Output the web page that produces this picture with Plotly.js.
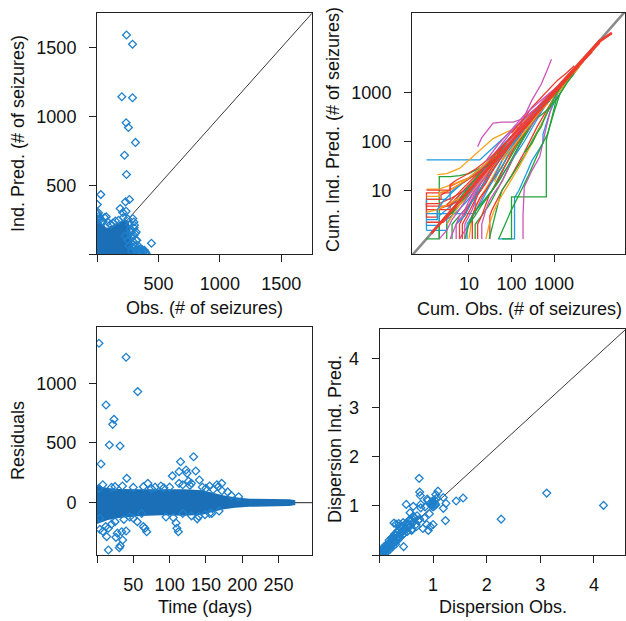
<!DOCTYPE html>
<html><head><meta charset="utf-8">
<script src="https://cdn.plot.ly/plotly-3.0.1.min.js"></script>
<style>html,body{margin:0;padding:0;background:#fff}#chart{width:626px;height:621px}</style>
</head><body><div id="chart"></div>
<script>
// ---------- Panel 1: observed vs individual predicted (# of seizures)
const obsCore  = [0,0,8,20,35,55,70,90,110,135,160,185,205,225,245,258,268,275,282,290,300,312,325,0];
const predCore = [0,285,270,235,215,218,195,190,205,200,218,232,245,250,245,230,195,150,110,70,40,20,0,0];
const obsPts  = [240,289,202,289,237,256,313,224,240,31,3,232,264,189,210,237,75,42,443,319,378,395,291,300,302,310,278,291,61,88,300,324,386,305,319,5,15,25,50,110,130,150,175,215,250,265,270,285,295,310,330,345,360,370,380,400,355,340,320,280,260,250,230,335,350,365,12,4,22];
const predPts = [1592,1525,1143,1136,954,920,811,718,578,432,360,379,396,330,301,311,270,240,78,100,22,12,258,233,190,149,160,51,265,233,136,100,27,209,160,290,275,250,235,215,225,240,245,265,255,215,180,120,90,60,40,20,10,30,15,5,5,55,30,20,60,100,130,10,35,8,300,250,262];
const diag1 = [0,1750];

// ---------- Panel 2: cumulative observed vs cumulative individual predicted
const cumObs = [
 [1,18,25,40,70,150,300,600,1200],
 [1.8,3,6,12,20,37,80,155,300,700,1500],
 [1,2,2,3.6,6,10,20,50,100,300,800],
 [16,20,37,60,110,200,400,900,2000],
 [1,1,3.6,3.6,6,10,20,40,80,200,500],
 [48,118,118,150,225,300,550,550,800,1200],
 [1,2,3,5,8,15,30,60,120,300,700,2000],
 [60,100,100,300,660,660,1120,2000,4000],
 [187,187,200,300,460,660,950,2000,5000],
 [30,60,100,155,300,500,700,870],
 [31,31,35,45,60,100,200,400,1000],
 [1,1,3.6,3.6,7,15,30,60,150,400],
 [1,1,2,4,8,15,30,60,120,250,600,1500],
 [1,14,14,20,40,80,200,500,1200,3000],
 [1,3.6,5,8,12,25,50,100,200,500,1000,3000,8000],
 [1,2,2,4,6,10,20,50],
 [1,3,3,5,9,14,30,70,200],
 [1,1.8,1.8,3.6,6,10,20,50,100],
 [1,3.6,3.6,6,10,25,60,150,400,900,2000],
 [1,2.5,4,6,10,20,50,100,300,700],
 [4,4,6,8,12,20,40,80,200],
 [14,14,20,30,40,70,150,400,1000,2500],
 [6,8,10,15,20,40,80,200,500,1200,3000],
 [8,8,12,16,25,50,100,300,800,2000],
 [10,12,15,20,30,60,120,250,600,1500,4000],
 [1,1.8,3,6,12,25,50,100,200,400,1000],
 [2,2,3,5,8,15,30,60,100,200,500,1200],
 [20,30,40,60,100,200,500,1000,2500],
 [3.6,5,7,10,15,30,60,150,300],
 [6,6,9,13,20,35,70,150,350,800,2000,5000],
 [30,40,50,60,80,120,200,300,600,1000,2000],
 [25,30,40,55,80,150,300,600,1000,2000,5000],
 [50,70,100,150,250,500,700,1000,1400],
 [10,15,20,30,60,100,200,400,800],
 [40,50,70,100,150,250,400,700],
 [100,200,300,500,800,1200,2000,3000],
 [300,400,500,800,1200,2000,3000],
 [5,8,12,20,35,60,120,250,600],
 [1000,1500,2500,4000,7000,12000],
 [3,3,4,5,7,10,20,40,80],
 [5,5,6,8,10,14,25,50,100,250],
 [7,7,9,12,16,25,40,80,150,400,1000],
 [9,9,12,15,20,30,60,120,300],
 [3,4,6,9,15,25,50,100,250,600],
 [12,12,15,18,25,35,60,100,200,500,1000,2500],
 [20,20,25,30,40,60,100,200,500],
 [8,10,12,15,22,35,60,120,250,600],
 [16,16,20,25,30,45,70,120,250,600,1500],
 [1,1.8,1.8,2.5,4,7,12,25,50,100],
 [1,2.2,2.2,3.6,5,9,18,40,90,200],
 [1,2,2,3.6,5,10,20,45],
 [1,3.6,3.6,5,8,15,30,70,150,300,700],
 [2,3,4,6,10,18,35,70,150,400],
 [10,14,20,30,50,80,150,300,600,1500],
 [30,40,60,80,120,200,400,800,2000,5000],
 [50,80,120,200,350,600,1000,2000,4000,9000],
 [60,100,150,250,400,700,1200,2500,5000],
 [200,300,450,700,1000,1600,2500,4000,7000,15000],
 [200,300,400,500,600,800,1100,1500,2500],
 [25,35,50,80,120,200,400,700,1500],
 [3,5,8,12,20,35,70,150,300,700,1500,3000,6000,12000],
 [1.3,2,3,4,6,10,20,40,70,150,300,700,1500,3000,6000,12000,23000]
];
const cumPred = [
 [42,42,55,80,120,220,400,700,1300],
 [21,22,28,48,70,115,160,200,330,800,1500],
 [1,1,19,19,20,22,30,55,110,300,700],
 [78,120,240,250,250,300,500,900,1800],
 [4.7,8.8,8.8,12,15,18,30,50,90,200,500],
 [1,1,7,10,22,40,92,140,400,900],
 [10.5,10.5,12,14,16,20,30,60,110,280,650,1800],
 [1,1,7.3,7.3,7.3,107,700,1600,3500],
 [1,3.1,11.7,25,48,200,700,1800,4500],
 [25,60,120,200,700,1500,3000,4900],
 [1,3,4,6,10,20,60,200,800],
 [1.5,6.5,6.5,9,14,22,35,60,150,400],
 [2.8,5.3,5.3,7,10,18,33,65,130,260,620,1500],
 [3.3,3.3,8,15,35,70,180,450,1100,2800],
 [4.7,4.7,6,9,14,25,50,100,210,480,1000,2900,7000],
 [1.9,1.9,3,5,8,12,25,50],
 [1.5,1.5,2.5,3.5,6,10,25,60,180],
 [2.8,2.8,4,5,6,10,20,45,100],
 [4.0,4.0,5,8,13,28,60,140,400,950,2100],
 [2.2,2.2,3.5,5,8,18,48,100,320,700],
 [1,2,3,4,6,12,30,70,200],
 [1,2,3,5,8,20,80,330,900,2300],
 [1,1.5,2,4,7,20,70,220,560,1200,2900],
 [1,2,4,8,15,40,100,330,820,2000],
 [1,3,5,8,14,40,120,260,600,1500,3800],
 [3.5,4,5,7,11,20,40,90,180,400,1000],
 [1,2,3,4,7,13,28,55,95,200,480,1150],
 [5,8,12,20,40,100,400,1000,2600],
 [1,2,3,5,10,25,60,150,330],
 [1,2,4,7,12,30,70,160,350,800,2000,5000],
 [1,3,6,10,15,25,50,100,300,800,1800],
 [1,2,4,7,12,30,90,300,800,1700,4500],
 [1,2,4,8,20,80,140,400,1000],
 [6,12,20,40,90,160,300,500,1000],
 [15,25,40,60,100,200,350,600],
 [150,300,500,800,1200,1800,2600,3600],
 [250,300,350,500,800,1600,2500],
 [2,3,6,12,25,50,110,260,600],
 [900,1400,2300,3700,6500,10500],
 [1,2,3,5,8,12,25,45,90],
 [1,2,3,4,6,10,22,50,110,260],
 [1,2,3,5,8,14,30,70,150,380,950],
 [1,2,3,4,6,12,40,100,280],
 [2,3,5,7,12,22,50,110,250,620],
 [1,3,5,7,10,16,30,70,180,480,1000,2500],
 [1,2,4,6,9,15,40,130,420],
 [1,2,3,4,6,10,25,70,200,550],
 [1,2,3,5,8,14,30,80,200,550,1400],
 [2.5,2.5,4,6,9,14,20,35,70,130],
 [6.5,6.5,8,10,12,16,25,45,90,210],
 [7.5,7.5,9,10,12,18,30,55],
 [10,10,13,16,20,28,45,90,170,320,700],
 [1,1.5,2.5,4,8,16,35,75,160,420],
 [2,3,5,8,15,30,80,250,600,1600],
 [12,18,30,50,90,190,420,850,2000,5000],
 [60,100,160,260,420,700,1100,2100,4000,8500],
 [40,70,110,200,350,650,1100,2400,4800],
 [180,280,450,700,1050,1550,2400,3800,6800,14000],
 [60,90,150,200,300,500,900,1400,2400],
 [40,60,90,140,210,350,600,900,1600],
 [5,8,12,17,26,45,90,180,360,800,1700,3300,6500,12500],
 [1.3,2,3,4,6,10,20,40,70,150,300,690,1480,2950,5900,11500,17000]
];
const subjColor = ['blue','orange','green','magenta','red','blue','orange','green','magenta','magenta',
 'red','blue','red','blue','red','blue','blue','red','red','red',
 'green','green','magenta','magenta','orange','orange','green','blue','magenta','red',
 'green','orange','green','magenta','orange','red','green','blue','red',
 'green','magenta','red','blue','orange','red','magenta','green','red','blue',
 'red','orange','red','magenta','green','blue','red','orange','red','green','magenta','red','red'];
const palette = {blue:'#1f9be0', orange:'#f7a21b', green:'#22a33a', magenta:'#cc55b8', red:'#ee3b2b'};
const diag2 = [0.45, 47000];

// ---------- Panel 3: residuals vs time (days)
const timeCore = [0,5,15,30,60,90,120,145,160,175,190,210,240,265,273,273,265,240,210,190,175,160,145,120,90,60,30,15,5,0];
const resCore  = [150,135,122,115,112,115,112,105,82,60,45,34,30,28,20,-20,-28,-30,-34,-42,-55,-75,-100,-110,-105,-112,-128,-145,-168,-178];
const timePts = [2.7,40,56,12.4,23.4,21.6,17,31.7,5.5,41,115,133,122.6,136,113,103.7,124,130,113,171.7,167,172,141,70,88,2.7,63.8,24.8,
 15.6,30.7,32,35.4,4,4,13.3,15.6,24.8,34,40,28,26,55.5,63.8,68.4,66,108.8,110,112,118,61.5,148.7,8,12,20,37,45,50,
 100,118,126,145,150,155,160,165,180,8,35,50,80,95,105,130,140,155,20,75,92,128,138,185,195,158,168];
const resPts = [1335,1218,930,818,698,656,483,475,324,204,343,385,274,265,260,224,246,162,162,162,134,100,190,162,140,120,134,134,
 -396,-377,-360,-312,-223,-130,-284,-214,-159,-243,-237,-255,-290,-159,-200,-243,-214,-170,-214,-243,-90,-90,-100,-240,-200,-180,-140,-120,-130,
 130,150,180,130,120,140,110,150,90,150,140,128,130,-120,-125,-110,-115,-90,128,118,125,145,-135,60,50,-90,-70];
const zeroT = [0,296];
const zeroR = [0,0];

// ---------- Panel 4: dispersion observed vs dispersion individual predicted
const dispObs = [0.02,0.03,0.04,0.05,0.06,0.07,0.08,0.09,0.1,0.11,0.12,0.13,0.14,0.15,0.16,0.17,0.18,0.19,0.2,0.21,0.22,0.23,0.24,0.25,
 0.26,0.27,0.28,0.29,0.3,0.31,0.32,0.33,0.34,0.35,0.36,0.37,0.38,0.4,0.42,0.43,0.45,0.46,0.48,0.5,0.52,0.54,0.56,0.58,0.6,0.62,0.65,
 0.68,0.7,0.72,0.12,0.18,0.24,0.1,0.15,0.2,0.25,0.3,0.22,0.28,0.35,0.4,0.05,0.08,0.38,0.44,0.55,0.6,
 3.12,4.18,2.27,1.23,1.56,1.43,0.74,0.75,0.76,1.09,1.05,1.19,1.24,0.89,0.50,0.77,0.63,0.90,1.19,0.45,0.91,0.95,1.0,0.81,0.69,0.75,
 0.63,0.57,0.93,0.84,0.77,0.31,0.27,0.36,0.97,0.98,1.0,1.01,1.02,1.03,1.04,0.99,1.06,1.0,1.05,0.96,0.56,0.52,0.6,0.88,0.85,0.01,0.03,0.06];
const dispPred = [0.02,0.05,0.03,0.07,0.04,0.09,0.06,0.12,0.08,0.14,0.1,0.16,0.12,0.2,0.14,0.22,0.16,0.25,0.18,0.28,0.2,0.3,0.22,0.33,
 0.25,0.36,0.27,0.3,0.4,0.28,0.35,0.45,0.3,0.38,0.5,0.34,0.42,0.55,0.4,0.48,0.6,0.44,0.52,0.65,0.48,0.56,0.7,0.6,0.52,0.66,0.75,
 0.62,0.8,0.7,0.2,0.3,0.36,0.02,0.08,0.12,0.18,0.22,0.34,0.42,0.5,0.46,0.12,0.16,0.58,0.66,0.62,0.7,
 1.26,1.01,0.73,0.70,1.16,1.10,1.56,1.28,1.21,1.30,1.23,1.17,1.05,1.14,1.03,1.03,0.99,1.11,0.95,0.17,0.50,0.58,0.62,0.54,0.58,0.73,
 0.79,0.86,0.84,0.75,0.96,0.63,0.65,0.64,1.0,1.03,1.05,1.08,1.0,1.12,1.04,1.1,1.15,0.98,1.02,1.07,0.72,0.62,0.5,0.62,0.98,0.01,0.01,0.02];
const diag4 = [0,4.6];

// ---------- build
const ptBlue = '#1f80cc', coreBlue = '#1b6fb6';
const mk = {symbol:'diamond-open', size:6, color:ptBlue, line:{width:1.3}};
const traces = [];
traces.push({x:diag1, y:diag1, mode:'lines', line:{color:'#3a3a3a', width:1}, xaxis:'x', yaxis:'y'});
traces.push({x:obsCore, y:predCore, mode:'lines', fill:'toself', fillcolor:coreBlue, line:{width:0, color:coreBlue}, xaxis:'x', yaxis:'y'});
traces.push({x:obsPts, y:predPts, mode:'markers', marker:mk, xaxis:'x', yaxis:'y'});

traces.push({x:diag2, y:diag2, mode:'lines', line:{color:'#8a8a8a', width:2.5}, xaxis:'x2', yaxis:'y2'});
for (let i = 0; i < cumObs.length; i++) {
  const last = i === cumObs.length - 1;
  traces.push({x:cumObs[i], y:cumPred[i], mode:'lines',
    line:{color:palette[subjColor[i]], width:last ? 2.6 : 1.3},
    xaxis:'x2', yaxis:'y2'});
}

traces.push({x:zeroT, y:zeroR, mode:'lines', line:{color:'#222', width:1}, xaxis:'x3', yaxis:'y3'});
traces.push({x:timeCore, y:resCore, mode:'lines', fill:'toself', fillcolor:coreBlue, line:{width:0, color:coreBlue}, xaxis:'x3', yaxis:'y3'});
traces.push({x:timePts, y:resPts, mode:'markers', marker:mk, xaxis:'x3', yaxis:'y3'});

traces.push({x:diag4, y:diag4, mode:'lines', line:{color:'#3a3a3a', width:1}, xaxis:'x4', yaxis:'y4'});
traces.push({x:dispObs, y:dispPred, mode:'markers', marker:mk, xaxis:'x4', yaxis:'y4'});

const F = 'Liberation Sans, Arial, sans-serif';
function ax(extra) {
  return Object.assign({showline:true, mirror:true, linecolor:'#222', linewidth:1, ticks:'outside', ticklen:7,
    tickcolor:'#222', tickwidth:1, showgrid:false, zeroline:false, automargin:false,
    tickfont:{family:F, size:18, color:'#111'}, tickmode:'array'}, extra);
}
const xs = {ticklabelstandoff:6}, ys = {ticklabelstandoff:9};
const W = 626, H = 621;
const px = v => v / W, py = v => 1 - v / H;
const layout = {
  width:W, height:H, margin:{l:0, r:0, t:0, b:0}, showlegend:false,
  paper_bgcolor:'#fff', plot_bgcolor:'#fff', font:{family:F, size:18, color:'#111'},
  xaxis: ax(Object.assign({domain:[px(97), px(312)], range:[0,1750], anchor:'y', tickvals:[0,500,1000,1500], ticktext:['','500','1000','1500']}, xs)),
  yaxis: ax(Object.assign({domain:[py(254), py(13)], range:[0,1752], anchor:'x', tickvals:[0,500,1000,1500], ticktext:['','500','1000','1500']}, ys)),
  xaxis2: ax(Object.assign({domain:[px(412), px(625)], type:'log', range:[-0.34,4.67], anchor:'y2', tickvals:[10,100,1000], ticktext:['10','100','1000']}, xs)),
  yaxis2: ax(Object.assign({domain:[py(254), py(13)], type:'log', range:[-0.31,4.64], anchor:'x2', tickvals:[10,100,1000], ticktext:['10','100','1000']}, ys)),
  xaxis3: ax(Object.assign({domain:[px(97), px(312)], range:[0,296], anchor:'y3', tickvals:[0,50,100,150,200,250], ticktext:['','50','100','150','200','250']}, xs)),
  yaxis3: ax(Object.assign({domain:[py(555), py(327)], range:[-438,1471], anchor:'x3', tickvals:[0,500,1000], ticktext:['0','500','1000']}, ys)),
  xaxis4: ax(Object.assign({domain:[px(379.5), px(625)], range:[0,4.58], anchor:'y4', tickvals:[0,1,2,3,4], ticktext:['','1','2','3','4']}, xs)),
  yaxis4: ax(Object.assign({domain:[py(555), py(329)], range:[0,4.6], anchor:'x4', tickvals:[0,1,2,3,4], ticktext:['','1','2','3','4']}, ys)),
  annotations: [
    {text:'Obs. (# of seizures)', x:px(204), y:py(308)},
    {text:'Ind. Pred. (# of seizures)', x:px(18), y:py(134), textangle:-90},
    {text:'Cum. Obs. (# of seizures)', x:px(519), y:py(309)},
    {text:'Cum. Ind. Pred. (# of seizures)', x:px(333), y:py(130), textangle:-90},
    {text:'Time (days)', x:px(205), y:py(607)},
    {text:'Residuals', x:px(18), y:py(441), textangle:-90},
    {text:'Dispersion Obs.', x:px(503), y:py(607)},
    {text:'Dispersion Ind. Pred.', x:px(335), y:py(439), textangle:-90}
  ].map(a => Object.assign({xref:'paper', yref:'paper', showarrow:false, xanchor:'center', yanchor:'middle',
     font:{family:F, size:18, color:'#111'}}, a))
};
Plotly.newPlot('chart', traces, layout, {staticPlot:true, displayModeBar:false});
</script></body></html>
